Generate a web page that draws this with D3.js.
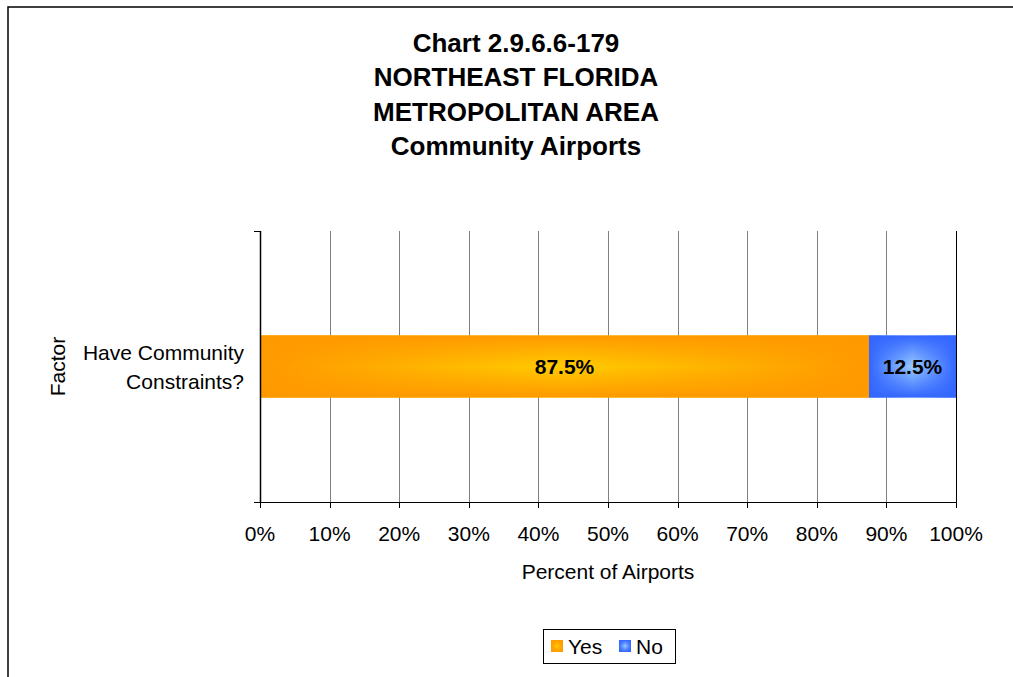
<!DOCTYPE html>
<html>
<head>
<meta charset="utf-8">
<script src="https://cdn.jsdelivr.net/npm/d3@7"></script>
<style>
  body { margin: 0; background: #fff; }
  text { font-family: Arial, "Liberation Sans", sans-serif; }
</style>
</head>
<body>
<div id="chart"></div>
<script>

// chart data
var titleLines = ["Chart 2.9.6.6-179", "NORTHEAST FLORIDA", "METROPOLITAN AREA", "Community Airports"];
var categories = ["Have Community Constraints?"];
var categoryLines = [["Have Community", "Constraints?"]];
var seriesNames = ["Yes", "No"];
var yesValues = [0.875];
var noValues = [0.125];
var valueLabels = [["87.5%"], ["12.5%"]];
var xTicks = [0, 0.1, 0.2, 0.3, 0.4, 0.5, 0.6, 0.7, 0.8, 0.9, 1];
var xTickLabels = ["0%", "10%", "20%", "30%", "40%", "50%", "60%", "70%", "80%", "90%", "100%"];

var width = 1013, height = 677;
var margin = {top: 231, right: 57, bottom: 175, left: 260};
var plotW = width - margin.left - margin.right,
    plotH = height - margin.top - margin.bottom;

// colours: edge, centre
var fills = {
  Yes: ["#ff9900", "#ffcc00"],
  No:  ["#3366ff", "#99ccff"]
};

var svg = d3.select("#chart")
  .append("svg")
    .attr("width", width)
    .attr("height", height);

var defs = svg.append("defs");

// fake a "from centre" rectangular gradient: centre colour, then edge colour
// fading in horizontally and vertically
seriesNames.forEach(function(s) {
  var h = defs.append("linearGradient").attr("id", "h" + s)
    .attr("x1", 0).attr("y1", 0).attr("x2", 1).attr("y2", 0);
  h.append("stop").attr("offset", "0%").attr("stop-color", fills[s][0]).attr("stop-opacity", 1);
  h.append("stop").attr("offset", "50%").attr("stop-color", fills[s][0]).attr("stop-opacity", 0);
  h.append("stop").attr("offset", "100%").attr("stop-color", fills[s][0]).attr("stop-opacity", 1);

  var v = defs.append("linearGradient").attr("id", "v" + s)
    .attr("x1", 0).attr("y1", 0).attr("x2", 0).attr("y2", 1);
  v.append("stop").attr("offset", "0%").attr("stop-color", fills[s][0]).attr("stop-opacity", 1);
  v.append("stop").attr("offset", "50%").attr("stop-color", fills[s][0]).attr("stop-opacity", 0);
  v.append("stop").attr("offset", "100%").attr("stop-color", fills[s][0]).attr("stop-opacity", 1);
});

// outer frame (runs off the right and bottom edges)
svg.append("rect")
  .attr("x", 8).attr("y", 7)
  .attr("width", width + 20).attr("height", height + 20)
  .attr("fill", "none")
  .attr("stroke", "#000")
  .attr("stroke-width", 1.5);

// title
svg.append("text")
  .attr("text-anchor", "middle")
  .attr("font-size", 26)
  .attr("font-weight", "bold")
  .selectAll("tspan")
  .data(titleLines)
  .enter().append("tspan")
    .attr("x", 516)
    .attr("y", function(d, i) { return 52 + i * 34.3; })
    .text(function(d) { return d; });

var g = svg.append("g")
  .attr("transform", "translate(" + margin.left + "," + margin.top + ")");

var x = d3.scaleLinear()
  .domain([0, 1])
  .range([0, plotW]);

var y = d3.scaleBand()
  .domain(categories)
  .range([0, plotH])
  .padding(0.6276);

var yOuter = d3.scaleBand()
  .domain(categories)
  .range([0, plotH]);

// vertical gridlines
g.append("g")
  .selectAll("line")
  .data(xTicks.slice(1))
  .enter().append("line")
    .attr("x1", function(d) { return Math.round(x(d)) + 0.5; })
    .attr("x2", function(d) { return Math.round(x(d)) + 0.5; })
    .attr("y1", 0)
    .attr("y2", plotH)
    .attr("stroke", function(d) { return d === 1 ? "#000" : "#808080"; })
    .attr("stroke-width", 1);

// stacked bars
var stackData = categories.map(function(c, i) {
  return {cat: c, Yes: yesValues[i], No: noValues[i]};
});
var stacked = d3.stack().keys(seriesNames)(stackData);

stacked.forEach(function(layer, li) {
  var s = layer.key;
  var lg = g.append("g");
  layer.forEach(function(d) {
    var bx = x(d[0]), bw = x(d[1]) - x(d[0]);
    var by = y(d.data.cat), bh = y.bandwidth();
    lg.append("rect").attr("x", bx).attr("y", by).attr("width", bw).attr("height", bh)
      .attr("fill", fills[s][1]);
    lg.append("rect").attr("x", bx).attr("y", by).attr("width", bw).attr("height", bh)
      .attr("fill", "url(#h" + s + ")");
    lg.append("rect").attr("x", bx).attr("y", by).attr("width", bw).attr("height", bh)
      .attr("fill", "url(#v" + s + ")");
  });
  // value labels
  lg.selectAll("text.val")
    .data(layer)
    .enter().append("text")
      .attr("class", "val")
      .attr("x", function(d) { return (x(d[0]) + x(d[1])) / 2; })
      .attr("y", function(d) { return y(d.data.cat) + y.bandwidth() / 2 + 7.5; })
      .attr("text-anchor", "middle")
      .attr("font-size", 21)
      .attr("font-weight", "bold")
      .attr("fill", "#000")
      .text(function(d, i) { return valueLabels[li][i]; });
});

// x axis
var xAxis = g.append("g")
  .attr("transform", "translate(0," + plotH + ")");
xAxis.append("line")
  .attr("x1", -6).attr("x2", plotW + 1)
  .attr("y1", 0.5).attr("y2", 0.5)
  .attr("stroke", "#000");
xAxis.selectAll("line.tick")
  .data(xTicks)
  .enter().append("line")
    .attr("class", "tick")
    .attr("x1", function(d) { return Math.round(x(d)) + 0.5; })
    .attr("x2", function(d) { return Math.round(x(d)) + 0.5; })
    .attr("y1", 0).attr("y2", 6)
    .attr("stroke", "#000");
xAxis.selectAll("text")
  .data(xTicks)
  .enter().append("text")
    .attr("x", function(d) { return x(d); })
    .attr("y", 39)
    .attr("text-anchor", "middle")
    .attr("font-size", 21)
    .text(function(d, i) { return xTickLabels[i]; });

// y axis
var yAxis = g.append("g");
yAxis.append("line")
  .attr("x1", 0.5).attr("x2", 0.5)
  .attr("y1", 0).attr("y2", plotH)
  .attr("stroke", "#000")
  .attr("stroke-width", 1.5);
yAxis.selectAll("line.tick")
  .data([0, plotH])
  .enter().append("line")
    .attr("class", "tick")
    .attr("x1", -6).attr("x2", 0)
    .attr("y1", function(d) { return d + 0.5; })
    .attr("y2", function(d) { return d + 0.5; })
    .attr("stroke", "#000");

categories.forEach(function(c, ci) {
  yAxis.append("text")
    .attr("text-anchor", "end")
    .attr("font-size", 21)
    .selectAll("tspan")
    .data(categoryLines[ci])
    .enter().append("tspan")
      .attr("x", -16)
      .attr("y", function(d, i) { return yOuter(c) + yOuter.bandwidth() / 2 - 7 + i * 29; })
      .text(function(d) { return d; });
});

// axis titles
svg.append("text")
  .attr("x", margin.left + plotW / 2)
  .attr("y", 579)
  .attr("text-anchor", "middle")
  .attr("font-size", 21)
  .text("Percent of Airports");

svg.append("text")
  .attr("transform", "translate(65," + (margin.top + plotH / 2) + ") rotate(-90)")
  .attr("text-anchor", "middle")
  .attr("font-size", 21)
  .text("Factor");

// legend
var legend = svg.append("g").attr("transform", "translate(543,629)");
legend.append("rect")
  .attr("x", 0.5).attr("y", 0.5)
  .attr("width", 132).attr("height", 34)
  .attr("fill", "#fff")
  .attr("stroke", "#000");
var legendX = [8, 76];
seriesNames.forEach(function(s, i) {
  var item = legend.append("g").attr("transform", "translate(" + legendX[i] + ",11)");
  item.append("rect").attr("width", 12).attr("height", 12).attr("fill", fills[s][1]);
  item.append("rect").attr("width", 12).attr("height", 12).attr("fill", "url(#h" + s + ")");
  item.append("rect").attr("width", 12).attr("height", 12).attr("fill", "url(#v" + s + ")");
  item.append("text")
    .attr("x", 17).attr("y", 14)
    .attr("font-size", 21)
    .text(s);
});

</script>
</body>
</html>
